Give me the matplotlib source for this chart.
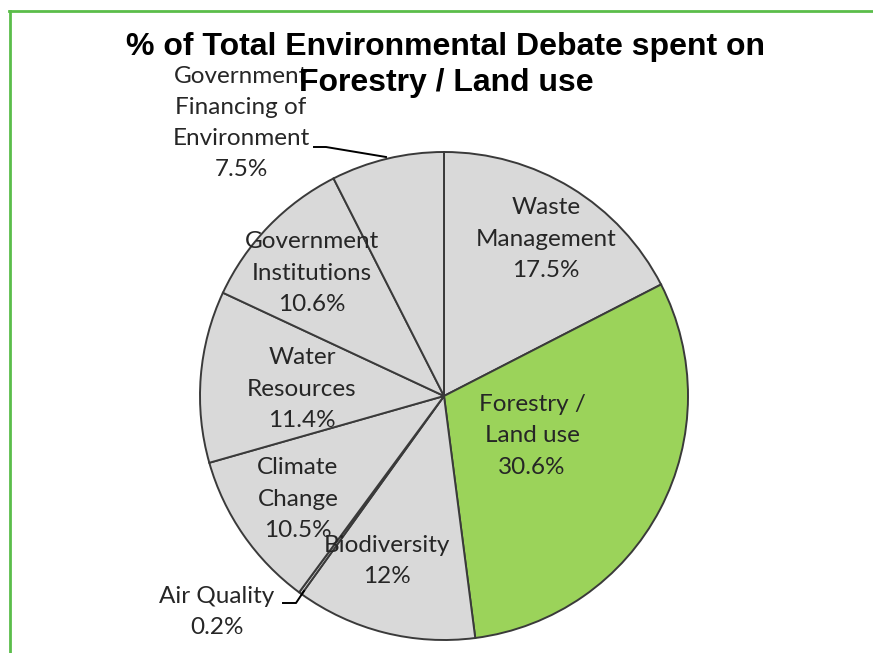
import matplotlib.pyplot as plt
from matplotlib.lines import Line2D

# slice data, clockwise from 12 o'clock
categories = [
    "Waste\nManagement",
    "Forestry /\nLand use",
    "Biodiversity",
    "Air Quality",
    "Climate\nChange",
    "Water\nResources",
    "Government\nInstitutions",
    "Government\nFinancing of\nEnvironment",
]
shares = [17.5, 30.6, 12, 0.2, 10.5, 11.4, 10.6, 7.5]
share_text = ["17.5%", "30.6%", "12%", "0.2%", "10.5%", "11.4%", "10.6%", "7.5%"]

GREY = "#d9d9d9"
GREEN = "#9bd35a"
EDGE = "#3a3a3a"
colors = [GREY, GREEN, GREY, GREY, GREY, GREY, GREY, GREY]

W, H = 873, 653
fig = plt.figure(figsize=(W / 100, H / 100), dpi=100)
ax = fig.add_axes([0, 0, 1, 1])


def py(y):
    # pixel row (from top) to data y
    return H - y


cx, cy, r = 444, 396, 244
ax.pie(
    shares,
    colors=colors,
    startangle=90,
    counterclock=False,
    center=(cx, py(cy)),
    radius=r,
    wedgeprops=dict(edgecolor=EDGE, linewidth=1.4),
    frame=True,
)
ax.set_xlim(0, W)
ax.set_ylim(0, H)
ax.set_aspect("equal")
ax.axis("off")

# label anchor points (pixel coords, centre of text block)
label_pos = [
    (546, 239),
    (532, 436),
    (387, 561),
    (217, 612),
    (298, 499),
    (302, 389),
    (312, 273),
    (241, 123),
]
for name, pct, (x, y) in zip(categories, share_text, label_pos):
    ax.text(x, py(y), f"{name}\n{pct}", ha="center", va="center",
            fontsize=17.5, family="Lato", color="#262626", linespacing=1.6)

# leader lines for the small outer labels
ax.plot([314, 326, 386], [py(147), py(147), py(157)], color="black", lw=1.4)
ax.plot([283, 296, 304], [py(603), py(603), py(591)], color="black", lw=1.4)

fig.text(446 / W, 1 - 65 / H,
         "% of Total Environmental Debate spent on\nForestry / Land use",
         ha="center", va="center", fontsize=23, fontweight="bold",
         family="Liberation Sans", color="black", linespacing=1.28)

# green frame along top and left edges
fig.add_artist(Line2D([9.5 / W, 9.5 / W], [0, 1 - 11 / H], color="#5bbd4a", lw=2,
                      transform=fig.transFigure))
fig.add_artist(Line2D([9 / W, 1], [1 - 11 / H, 1 - 11 / H], color="#5bbd4a", lw=2,
                      transform=fig.transFigure))

fig.savefig("out.png", dpi=100, facecolor="white")
